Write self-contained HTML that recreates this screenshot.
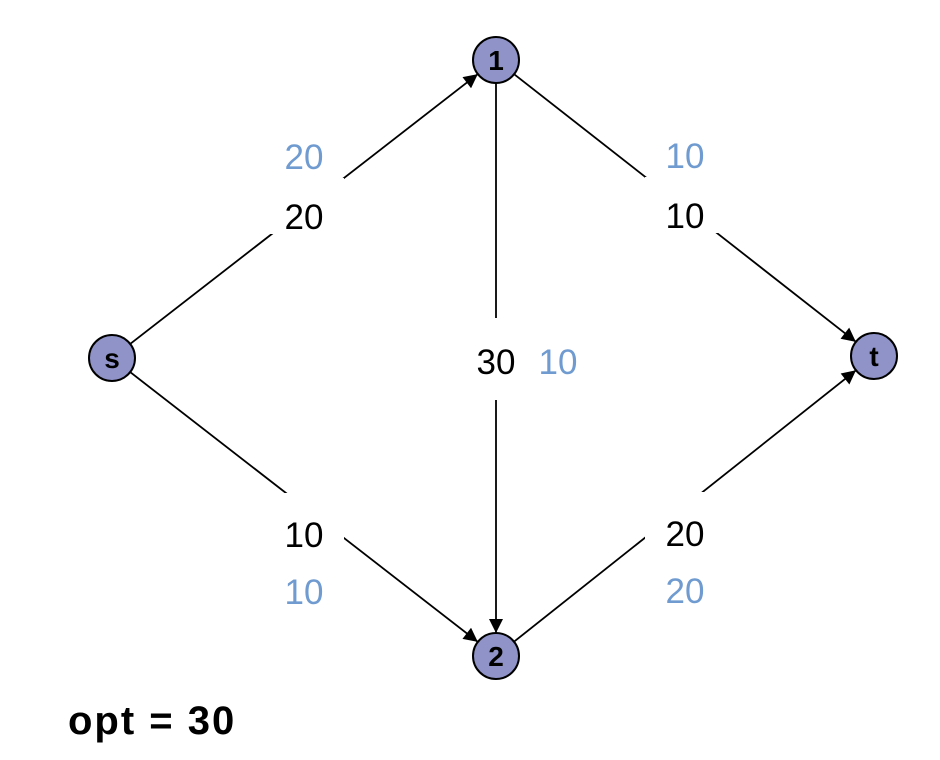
<!DOCTYPE html>
<html><head><meta charset="utf-8"><style>
body{margin:0;background:#fff}
svg{display:block}
text{font-family:"Liberation Sans",sans-serif}
</style></head><body>
<svg id="c" width="940" height="760" viewBox="0 0 940 760">
<defs>
<marker id="ah2" viewBox="0 0 10 10" refX="10" refY="5" markerWidth="16" markerHeight="14" markerUnits="userSpaceOnUse" orient="auto"><path d="M0,0L10,5L0,10z" fill="#000"/></marker></defs>
<g id="edges"></g><g id="nodes"></g>
<text x="68" y="734" font-size="40" font-weight="bold" letter-spacing="2">opt = 30</text>
</svg>
<script>
const nodeNames=["s","1","2","t"];
const edgeFrom=["s","1","1","s","2"];
const edgeTo=["1","t","2","2","t"];
const capacities=[20,10,30,10,20];
const flows=[20,10,10,10,20];
const pos={s:[112,358],"1":[496,60],"2":[496,656],t:[874,356]};
const flowOffset=[[0,-60],[0,-60],[62,0],[0,57],[0,57]];
const labelShift=[8,8,4,28,28];
const gapShift=[-3,-3,1,14,14];
const gapH=[56,56,82,56,56];
const NS="http://www.w3.org/2000/svg";
const eg=document.getElementById('edges'),ng=document.getElementById('nodes');
const R=23;
function mk(tag,attrs,parent){const e=document.createElementNS(NS,tag);for(const k in attrs)e.setAttribute(k,attrs[k]);parent.appendChild(e);return e;}
edgeFrom.forEach((f,i)=>{
  const a=pos[f],b=pos[edgeTo[i]];
  const dx=b[0]-a[0],dy=b[1]-a[1],L=Math.hypot(dx,dy),ux=dx/L,uy=dy/L;
  const ln=mk('line',{x1:a[0]+ux*R,y1:a[1]+uy*R,x2:b[0]-ux*R,y2:b[1]-uy*R,stroke:'#000','stroke-width':1.8,'marker-end':'url(#ah2)'},eg);
  
  
  const mx=(a[0]+b[0])/2,my=(a[1]+b[1])/2,sh=labelShift[i];
  const bg=mk('rect',{x:mx-40,y:my+gapShift[i]-gapH[i]/2,width:80,height:gapH[i],fill:'#fff'},eg);
  
  
  const t=mk('text',{x:mx,y:my+12+sh,'font-size':35,'text-anchor':'middle',fill:'#000'},eg);
  t.textContent=capacities[i];
  
  
  const o=flowOffset[i];
  const t2=mk('text',{x:mx+o[0],y:my+12+sh+o[1],'font-size':35,'text-anchor':'middle',fill:'#6f9bd0'},eg);
  t2.textContent=flows[i];
  
  
});
nodeNames.forEach(n=>{
  const p=pos[n];
  const c=mk('circle',{cx:p[0],cy:p[1],r:R,fill:'#8f93c8',stroke:'#000','stroke-width':2},ng);
  
  
  const t=mk('text',{x:p[0],y:p[1]+10,'font-size':28,'font-weight':'bold','text-anchor':'middle'},ng);
  t.textContent=n;
  
  
});
</script>
</body></html>
